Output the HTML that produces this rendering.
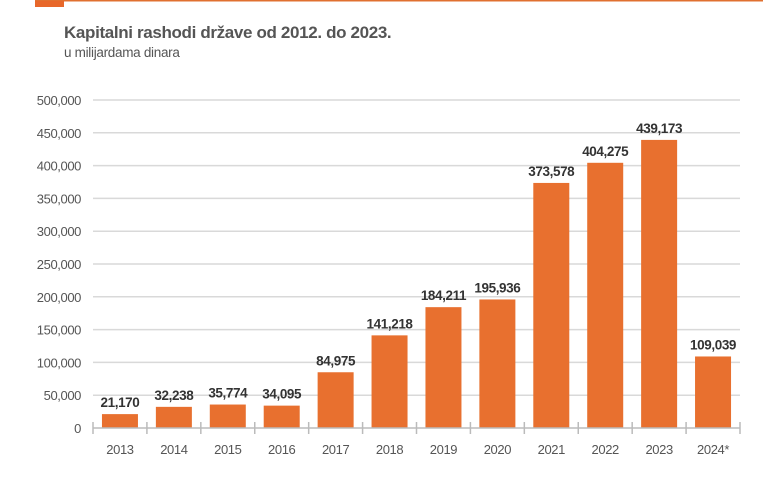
<!DOCTYPE html>
<html><head><meta charset="utf-8"><style>
body{margin:0;background:#fff;width:763px;height:492px;overflow:hidden;font-family:"Liberation Sans",sans-serif}
</style></head><body>
<svg width="763" height="492" xmlns="http://www.w3.org/2000/svg">
<rect x="35" y="0" width="728" height="1.5" fill="#e07030"/>
<rect x="35" y="1" width="29" height="6" fill="#e8672a"/>
<text x="64" y="38" font-size="17" font-weight="bold" fill="#555" letter-spacing="-0.35">Kapitalni rashodi države od 2012. do 2023.</text>
<text x="64" y="57" font-size="13.5" fill="#555" letter-spacing="-0.3">u milijardama dinara</text>
<g id="grid"></g><g id="bars"></g><g id="axis"></g>
</svg>
<script>
const categories=["2013","2014","2015","2016","2017","2018","2019","2020","2021","2022","2023","2024*"];
const values=[21170,32238,35774,34095,84975,141218,184211,195936,373578,404275,439173,109039];
const yTicks=[0,50000,100000,150000,200000,250000,300000,350000,400000,450000,500000];
const NS="http://www.w3.org/2000/svg";
const x0=93,x1=740,y0=428,yTop=100,yMax=500000;
const step=(x1-x0)/categories.length;
const y=v=>y0-(v/yMax)*(y0-yTop);
const fmt=v=>v.toLocaleString('en-US');
function mk(tag,attrs,parent){const e=document.createElementNS(NS,tag);for(const k in attrs)e.setAttribute(k,attrs[k]);parent.appendChild(e);return e;}
const grid=document.getElementById('grid'),bars=document.getElementById('bars'),axis=document.getElementById('axis');
yTicks.forEach(t=>{
  if(t>0){const l=mk('line',{x1:x0,x2:x1,y1:y(t),y2:y(t),stroke:'#d9d9d9','stroke-width':1.5},grid);
  
  }
  const tx=mk('text',{x:81,y:y(t)+5,'text-anchor':'end','font-size':13,fill:'#555','letter-spacing':-0.4},axis);
  tx.textContent=fmt(t);
  
  
});
const base=mk('line',{x1:x0,x2:x1,y1:y0,y2:y0,stroke:'#bbb','stroke-width':1.5},axis);


for(let i=0;i<=categories.length;i++){
  const tk=mk('line',{x1:x0+i*step,x2:x0+i*step,y1:y0-6,y2:y0+6,stroke:'#bbb','stroke-width':1.5},axis);
  
  
}
categories.forEach((c,i)=>{
  const cx=x0+(i+0.5)*step,w=36;
  const r=mk('rect',{x:cx-w/2,y:y(values[i]),width:w,height:y0-y(values[i]),fill:'#e8702f'},bars);
  
  
  const lb=mk('text',{x:cx,y:y(values[i])-7,'text-anchor':'middle','font-size':13.5,'font-weight':'bold',fill:'#333','letter-spacing':-0.4},bars);
  lb.textContent=fmt(values[i]);
  
  
  const xl=mk('text',{x:cx,y:454,'text-anchor':'middle','font-size':13,fill:'#555','letter-spacing':-0.4},axis);
  xl.textContent=c;
  
  
});
</script>
</body></html>
